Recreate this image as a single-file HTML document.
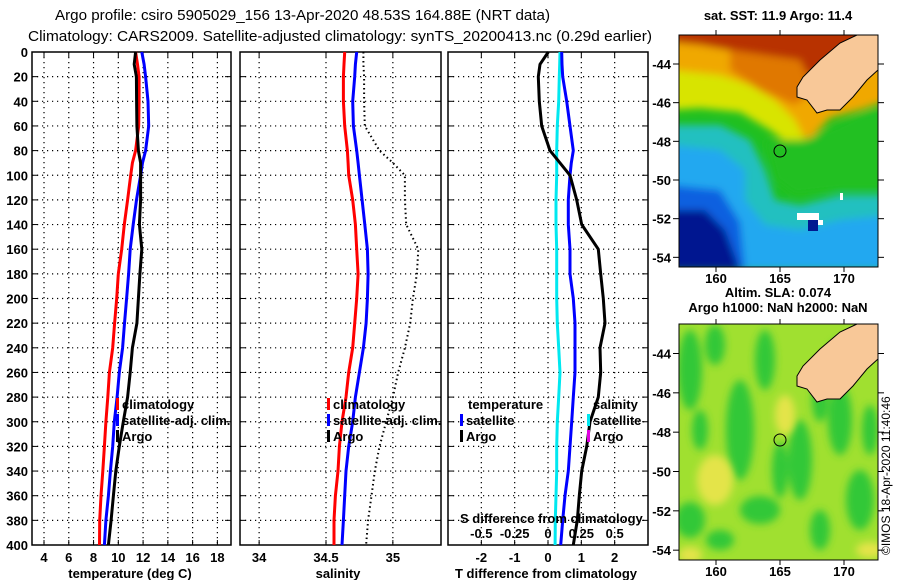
<!DOCTYPE html>
<html><head><meta charset="utf-8"><style>
html,body{margin:0;padding:0;background:#fff}
svg{display:block;font-family:"Liberation Sans",Arial,sans-serif}
.t{font-size:13px;font-weight:bold;fill:#000}
.ttl{font-size:15px;fill:#000}
</style></head><body>
<svg id="fig" width="900" height="580" viewBox="0 0 900 580" xmlns="http://www.w3.org/2000/svg">
<defs>
<filter id="bl" x="-20%" y="-20%" width="140%" height="140%"><feGaussianBlur stdDeviation="4"/></filter>
<clipPath id="c1"><rect x="679" y="35" width="199" height="232"/></clipPath>
<clipPath id="c2"><rect x="679" y="324" width="199" height="236"/></clipPath>
</defs>
<text class="ttl" x="55" y="20" textLength="495" lengthAdjust="spacingAndGlyphs">Argo profile: csiro 5905029_156 13-Apr-2020 48.53S 164.88E (NRT data)</text>
<text class="ttl" x="28" y="41" textLength="624" lengthAdjust="spacingAndGlyphs">Climatology: CARS2009. Satellite-adjusted climatology: synTS_20200413.nc (0.29d earlier)</text>

<!-- SST map -->
<g clip-path="url(#c1)">
<rect x="679" y="35" width="199" height="232" fill="#20c020"/>
<g filter="url(#bl)">
<polygon fill="#f0a800" points="670,25 890,25 890,100 860,110 830,118 810,140 790,130 760,110 720,98 690,95 670,95"/>
<polygon fill="#d8e400" points="670,70 720,75 750,85 775,100 795,120 805,140 790,145 770,130 740,112 700,108 670,110"/>
<polygon fill="#b83000" points="670,25 870,25 850,55 825,80 805,75 780,58 740,52 700,45 670,42"/>
<polygon fill="#e07800" points="730,50 800,60 815,90 795,105 760,90 730,70"/>
<polygon fill="#20c0c0" points="670,125 720,125 750,140 765,170 775,200 800,205 840,195 890,195 890,270 670,270"/>
<polygon fill="#20a8f0" points="670,145 720,150 745,170 745,200 765,225 800,230 840,220 890,215 890,270 670,270"/>
<polygon fill="#1060e0" points="670,185 720,190 740,222 745,270 670,270"/>
<polygon fill="#001890" points="670,210 705,210 725,230 740,270 670,270"/>
<polygon fill="#20c020" points="765,140 805,140 870,110 890,110 890,190 840,190 795,195 775,180"/>
</g>
<rect x="797" y="213" width="22" height="7" fill="#fff"/>
<rect x="808" y="220" width="10" height="11" fill="#001890"/>
<rect x="818" y="220" width="5" height="5" fill="#fff"/>
<rect x="840" y="193" width="3" height="7" fill="#fff"/>
<polygon fill="#f8c898" stroke="#000" stroke-width="1" points="857,35 878,35 878,70 867,80 853,97 840,110 827,110 817,113 807,100 797,97 797,87 803,77 820,60 840,43"/>
<circle cx="780" cy="151" r="6" fill="none" stroke="#000" stroke-width="1"/>
</g>
<rect x="679" y="35" width="199" height="232" fill="none" stroke="#000"/>
<text class="t" x="778" y="20" text-anchor="middle">sat. SST: 11.9 Argo: 11.4</text>

<!-- SLA map -->
<g clip-path="url(#c2)">
<rect x="679" y="324" width="199" height="236" fill="#a0e030"/>
<g filter="url(#bl)" fill="#30c838">
<ellipse cx="690" cy="370" rx="12" ry="40"/><ellipse cx="740" cy="430" rx="14" ry="50"/>
<ellipse cx="765" cy="360" rx="10" ry="30"/><ellipse cx="800" cy="460" rx="12" ry="40"/>
<ellipse cx="840" cy="420" rx="12" ry="35"/><ellipse cx="860" cy="500" rx="14" ry="30"/>
<ellipse cx="690" cy="520" rx="15" ry="18"/><ellipse cx="760" cy="510" rx="20" ry="14"/>
<ellipse cx="720" cy="540" rx="14" ry="10"/><ellipse cx="820" cy="530" rx="10" ry="20"/>
<ellipse cx="715" cy="345" rx="10" ry="20"/><ellipse cx="820" cy="400" rx="8" ry="22"/>
<ellipse cx="870" cy="430" rx="8" ry="25"/><ellipse cx="780" cy="470" rx="8" ry="28"/>
<ellipse cx="700" cy="430" rx="8" ry="20"/><ellipse cx="840" cy="360" rx="12" ry="20"/>
</g>
<g filter="url(#bl)" fill="#e4e448">
<ellipse cx="715" cy="480" rx="18" ry="25"/><ellipse cx="785" cy="415" rx="10" ry="20"/>
<ellipse cx="870" cy="550" rx="14" ry="8"/><ellipse cx="690" cy="555" rx="12" ry="8"/>
</g>
<polygon fill="#f8c898" stroke="#000" stroke-width="1" points="857,324 878,324 878,359 867,369 853,386 840,399 827,399 817,402 807,389 797,386 797,376 803,366 820,349 840,332"/>
<circle cx="780" cy="440" r="6" fill="none" stroke="#000" stroke-width="1"/>
</g>
<rect x="679" y="324" width="199" height="236" fill="none" stroke="#000"/>
<text class="t" x="778" y="297" text-anchor="middle">Altim. SLA: 0.074</text>
<text class="t" x="778" y="312" text-anchor="middle">Argo h1000: NaN h2000: NaN</text>
<text x="890" y="555" font-size="12" transform="rotate(-90 890 555)">©IMOS 18-Apr-2020 11:40:46</text>
<g id="maxes"></g>
<g id="plots"></g>
</svg>
<script>
const depths=[0,10,20,40,60,80,90,100,120,140,160,180,200,220,240,260,280,300,320,340,360,380,400];
const tClim=[11.4,11.55,11.68,11.68,11.65,11.4,11.14,11.0,10.75,10.48,10.27,10.0,9.87,9.7,9.55,9.28,9.15,9.0,8.88,8.75,8.6,8.5,8.48];
const tSat=[11.9,12.08,12.2,12.4,12.45,12.2,11.95,11.8,11.47,11.2,10.96,10.83,10.67,10.5,10.35,10.08,9.9,9.68,9.55,9.36,9.2,9.0,8.88];
const tArgo=[11.4,11.28,11.46,11.48,11.5,11.62,11.8,11.8,11.8,11.7,11.9,11.74,11.62,11.5,11.14,10.96,10.75,10.4,10.08,9.8,9.6,9.42,9.2];
const sClim=[34.64,34.635,34.63,34.63,34.64,34.66,34.665,34.67,34.70,34.72,34.73,34.74,34.73,34.715,34.70,34.67,34.65,34.62,34.60,34.59,34.57,34.56,34.56];
const sSat=[34.73,34.72,34.715,34.70,34.705,34.73,34.74,34.75,34.77,34.79,34.81,34.815,34.81,34.80,34.78,34.75,34.72,34.70,34.67,34.65,34.64,34.63,34.62];
const sArgo=[34.78,34.78,34.785,34.785,34.79,34.90,35.0,35.09,35.09,35.10,35.19,35.18,35.15,35.13,35.09,35.04,35.00,34.95,34.90,34.865,34.84,34.815,34.80];
const dTSat=[0.41,0.42,0.44,0.56,0.66,0.76,0.7,0.66,0.61,0.61,0.66,0.66,0.76,0.81,0.81,0.81,0.76,0.71,0.66,0.61,0.51,0.44,0.38];
const dTArgo=[0.01,-0.24,-0.29,-0.26,-0.19,0.06,0.36,0.66,0.86,1.01,1.51,1.58,1.66,1.71,1.56,1.58,1.51,1.26,1.16,1.01,0.94,0.88,0.76];
const dSSat=[0.09,0.088,0.085,0.08,0.07,0.065,0.065,0.065,0.06,0.06,0.065,0.065,0.065,0.07,0.08,0.09,0.08,0.07,0.065,0.065,0.06,0.055,0.053];
const depthTicks=[0,20,40,60,80,100,120,140,160,180,200,220,240,260,280,300,320,340,360,380,400];
const tTicks=[4,6,8,10,12,14,16,18];
const sTicks=[34,34.5,35];
const sTickLabels=["34","34.5","35"];
const dTTicks=[-2,-1,0,1,2];
const dSTicks=[-0.5,-0.25,0,0.25,0.5];
const dSTickLabels=["-0.5","-0.25","0","0.25","0.5"];
const latTicks=[-44,-46,-48,-50,-52,-54];
const lonTicks=[160,165,170];

const NS='http://www.w3.org/2000/svg';
const root=document.getElementById('plots');
function mk(tag,at,parent){const e=document.createElementNS(NS,tag);for(const k in at)e.setAttribute(k,at[k]);(parent||root).appendChild(e);return e;}
const Y0=52,Y1=545;
function yD(d){return Y0+(d/400)*(Y1-Y0);}
function panel(name,x0,x1,dom,vticks,labelAxis){
  const sx=v=>x0+(v-dom[0])/(dom[1]-dom[0])*(x1-x0);
  const g=mk('g',{});
  
  
  vticks.forEach(v=>{const l=mk('line',{x1:sx(v),x2:sx(v),y1:Y0,y2:Y1,stroke:'#000','stroke-width':1.2,'stroke-dasharray':'1.2 3.8'},g);
    
    mk('line',{x1:sx(v),x2:sx(v),y1:Y0,y2:Y0+5,stroke:'#000'},g);mk('line',{x1:sx(v),x2:sx(v),y1:Y1,y2:Y1-5,stroke:'#000'},g);});
  depthTicks.forEach(d=>{if(d>0&&d<400){const l=mk('line',{x1:x0,x2:x1,y1:yD(d),y2:yD(d),stroke:'#000','stroke-width':1.2,'stroke-dasharray':'1.2 3.8'},g);
    }
    mk('line',{x1:x0,x2:x0+6,y1:yD(d),y2:yD(d),stroke:'#000'},g);mk('line',{x1:x1,x2:x1-6,y1:yD(d),y2:yD(d),stroke:'#000'},g);
    if(labelAxis){const t=mk('text',{x:x0-4,y:yD(d)+5,'text-anchor':'end',class:'t'},g);t.textContent=d;
      }});
  const fr=mk('rect',{x:x0,y:Y0,width:x1-x0,height:Y1-Y0,fill:'none',stroke:'#000','stroke-width':1.5},g);
  
  return {g,sx};
}
function line(p,vals,color,name,dash,w,scale){
  const pts=vals.map((v,i)=>p.sx(v*(scale||1)).toFixed(1)+','+yD(depths[i]).toFixed(1)).join(' ');
  const at={points:pts,fill:'none',stroke:color,'stroke-width':w||3,'stroke-linejoin':'round'};
  if(dash)at['stroke-dasharray']=dash;
  const e=mk('polyline',at,p.g);
  
  
}
function txt(g,x,y,s,name,anchor){const t=mk('text',{x:x,y:y,class:'t','text-anchor':anchor||'start'},g);t.textContent=s;
  return t;}
function legItem(g,x,y,color,s,name){const r=mk('rect',{x:x,y:y-11,width:3,height:12,fill:color},g);
  txt(g,x+6,y,s,name);}

const p1=panel('temperature-panel',32,231,[3.03,19.1],tTicks,true);
line(p1,tClim,'#ff0000','temp-climatology-line');
line(p1,tSat,'#0000ff','temp-satellite-line');
line(p1,tArgo,'#000000','temp-argo-line');
tTicks.forEach(v=>txt(p1.g,p1.sx(v),562,String(v),'temp-tick-label','middle'));
txt(p1.g,130,578,'temperature (deg C)','x-axis-title-temperature','middle');
legItem(p1.g,116,409,'#ff0000','climatology','legend-climatology');
legItem(p1.g,116,425,'#0000ff','satellite-adj. clim.','legend-satellite');
legItem(p1.g,116,441,'#000000','Argo','legend-argo');

const p2=panel('salinity-panel',240,441,[33.857,35.36],sTicks,false);
line(p2,sClim,'#ff0000','sal-climatology-line');
line(p2,sSat,'#0000ff','sal-satellite-line');
line(p2,sArgo,'#000000','sal-argo-line','1.5 3',2);
sTicks.forEach((v,i)=>txt(p2.g,p2.sx(v),562,sTickLabels[i],'sal-tick-label','middle'));
txt(p2.g,338,578,'salinity','x-axis-title-salinity','middle');
legItem(p2.g,327,409,'#ff0000','climatology','legend-climatology');
legItem(p2.g,327,425,'#0000ff','satellite-adj. clim.','legend-satellite');
legItem(p2.g,327,441,'#000000','Argo','legend-argo');

const p3=panel('difference-panel',448,648,[-3,3],dTTicks,false);
line(p3,dSSat,'#00e8f0','sal-diff-satellite-line',null,3,4);
line(p3,dTSat,'#0000ff','temp-diff-satellite-line');
line(p3,dTArgo,'#000000','temp-diff-argo-line');
dTTicks.forEach(v=>txt(p3.g,p3.sx(v),562,String(v),'tdiff-tick-label','middle'));
txt(p3.g,546,578,'T difference from climatology','x-axis-title-tdiff','middle');
txt(p3.g,460,523,'S difference from climatology','s-diff-axis-title');
dSTicks.forEach((v,i)=>txt(p3.g,p3.sx(v*4),538,dSTickLabels[i],'sdiff-tick-label','middle'));
txt(p3.g,468,409,'temperature','legend-temperature-heading');
legItem(p3.g,460,425,'#0000ff','satellite','legend-temp-satellite');
legItem(p3.g,460,441,'#000000','Argo','legend-temp-argo');
txt(p3.g,593,409,'salinity','legend-salinity-heading');
legItem(p3.g,587,425,'#00e8f0','satellite','legend-sal-satellite');
legItem(p3.g,587,441,'#e000e0','Argo','legend-sal-argo');

const mx=document.getElementById('maxes');
function mapAxes(top,bottom,tickY){
  const yL=l=>top+( -42.5 - l)/12*(bottom-top);
  const xL=l=>716+(l-160)*12.8;
  latTicks.forEach(l=>{const y=yL(l);
    mk('line',{x1:679,x2:673,y1:y,y2:y,stroke:'#000'},mx);mk('line',{x1:878,x2:884,y1:y,y2:y,stroke:'#000'},mx);
    const t=mk('text',{x:671,y:y+5,'text-anchor':'end',class:'t'},mx);t.textContent=l;
    });
  lonTicks.forEach(l=>{const x=xL(l);
    mk('line',{x1:x,x2:x,y1:bottom,y2:bottom+5,stroke:'#000'},mx);mk('line',{x1:x,x2:x,y1:top,y2:top-5,stroke:'#000'},mx);
    const t=mk('text',{x:x,y:tickY,'text-anchor':'middle',class:'t'},mx);t.textContent=l;
    });
}
mapAxes(35,267,283);
mapAxes(324,560,576);
</script>
</body></html>
